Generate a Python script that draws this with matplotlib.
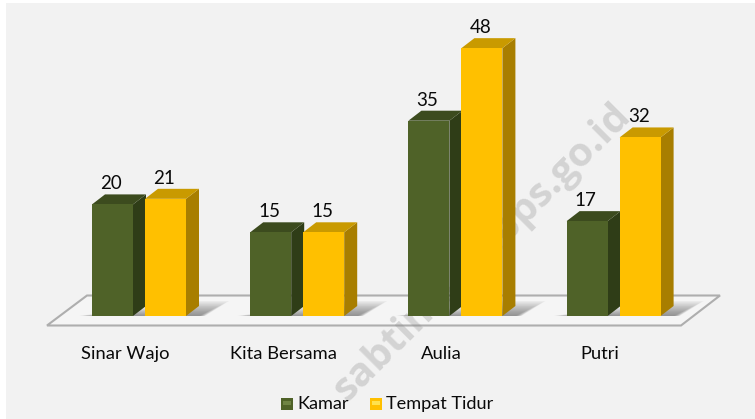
import matplotlib
matplotlib.use("Agg")
import matplotlib.pyplot as plt
from matplotlib.patches import Polygon, Rectangle
import numpy as np

categories = ["Sinar Wajo", "Kita Bersama", "Aulia", "Putri"]
kamar = [20, 15, 35, 17]
tempat_tidur = [21, 15, 48, 32]
series_names = ["Kamar", "Tempat Tidur"]

W, H = 755, 419
plt.rcParams['font.family'] = ['Lato', 'DejaVu Sans']
fig = plt.figure(figsize=(W / 100, H / 100), dpi=100, facecolor='white')
ax = fig.add_axes([0, 0, 1, 1])
ax.set_axis_off()

# scales: 158.2 px per category, 5.58 px per unit; category 0 label centre x=125, baseline y=316
PX_X, PX_Y = 158.2, 5.58
ax.set_xlim(-125 / PX_X, (W - 125) / PX_X)
ax.set_ylim(-(H - 316) / PX_Y, 316 / PX_Y)

def dx(p): return p / PX_X
def dy(p): return p / PX_Y
def px(x, y): return (dx(x - 125), dy(316 - y))

ax.add_patch(Rectangle(px(6, 419), dx(749), dy(416), fc='#f2f2f2', ec='none', zorder=0))

# floor
ax.add_patch(Polygon([px(47, 325.5), px(681, 325.5), px(720, 295.5), px(87, 295.5)], closed=True,
                     fc='#f5f5f5', ec='#aeaeae', lw=1.5, zorder=1))

DEPTH_X, DEPTH_Y = 13, 10
BW = 41
OFFS = [-33, 20]
FRONT = ['#4f6228', '#ffc000']
SIDE = ['#2f3d17', '#a87e00']
TOP = ['#3c4b1e', '#c99a00']
LEG_TOP = ['#6f8444', '#ffe24d']

# floor shadows
for i in range(len(categories)):
    x0 = i + dx(OFFS[0])
    x1 = i + dx(OFFS[1] + BW)
    for k in np.linspace(1, 0.08, 12):
        ax.add_patch(Polygon([(x0 - dx(13 * k), 0), (x1 + dx(13 + 6 * k), 0),
                              (x1 + dx(13 + 30 * k), dy(15 * k)), (x1, dy(15 * k))],
                             closed=True, fc='#444444', ec='none', alpha=0.06, zorder=1.5))

def bar3d(x, v, s, z):
    w = dx(BW); ddx = dx(DEPTH_X); ddy = dy(DEPTH_Y)
    ax.add_patch(Polygon([(x + w, 0), (x + w + ddx, ddy), (x + w + ddx, v + ddy), (x + w, v)],
                         closed=True, fc=SIDE[s], ec='none', zorder=z))
    ax.add_patch(Polygon([(x, v), (x + w, v), (x + w + ddx, v + ddy), (x + ddx, v + ddy)],
                         closed=True, fc=TOP[s], ec='none', zorder=z))
    ax.add_patch(Rectangle((x, 0), w, v, fc=FRONT[s], ec='none', zorder=z + 0.1))

for i, (a, b) in enumerate(zip(kamar, tempat_tidur)):
    xa, xb = i + dx(OFFS[0]), i + dx(OFFS[1])
    bar3d(xa, a, 0, 2 + i)
    bar3d(xb, b, 1, 2.5 + i)
    ax.text(xa + dx(19), a + dy(12), str(a), ha='center', va='bottom', fontsize=13.5, color='#0a0a0a', zorder=8)
    ax.text(xb + dx(19.5), b + dy(12), str(b), ha='center', va='bottom', fontsize=13.5, color='#0a0a0a', zorder=8)
    ax.text(i, dy(316 - 354), categories[i], ha='center', va='center', fontsize=13.2, color='#0a0a0a', zorder=8)

# legend
for name, c, sq, tx in zip(series_names, FRONT, [281, 370], [297, 386]):
    ax.add_patch(Rectangle(px(sq, 410), dx(12), dy(12), fc=c, ec='none', zorder=8))
    ax.text(px(tx, 0)[0], px(0, 403.5)[1], name, ha='left', va='center', fontsize=13.1, color='#0a0a0a', zorder=8)
for c, sq in zip(LEG_TOP, [281, 370]):
    ax.add_patch(Rectangle(px(sq + 2, 405), dx(8), dy(4), fc=c, ec='none', zorder=8.1))

# watermark
mx, my = px(482, 253)
ax.text(mx, my, "sabtimkab.bps.go.id", rotation=45, rotation_mode='anchor', ha='center', va='center',
        fontsize=29, fontweight='bold', color='#8c8c8c', alpha=0.3, zorder=1.8,
        family=['Open Sans', 'DejaVu Sans'], clip_on=True)

fig.savefig('out.png', dpi=100, facecolor='white')
